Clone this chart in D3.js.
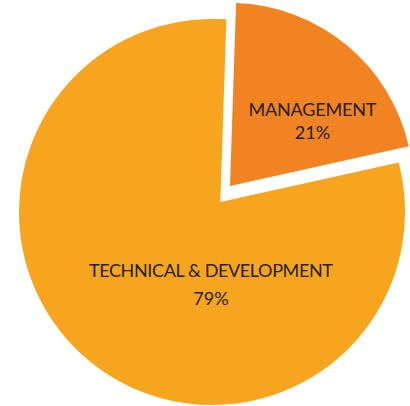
<!DOCTYPE html>
<html>
<head>
<meta charset="utf-8">
<script src="https://cdn.jsdelivr.net/npm/d3@7"></script>
<style>
  html, body { margin: 0; padding: 0; background: #ffffff; }
  svg { display: block; }
</style>
</head>
<body>
<div id="chart"></div>
<script>
// ---- data ----
const categories = ["MANAGEMENT", "TECHNICAL & DEVELOPMENT"];
const values = [21, 79];
const percentLabels = ["21%", "79%"];
const colors = ["#F28322", "#F7A51E"];

// ---- layout ----
const W = 410, H = 406;
const cx = 212, cy = 212;
const startAngle = 0.033;
const radii = [183, 185];          // geometric outer radius per slice
const strokeW = [0, 16];           // same-colour outline widening the big slice
const explode = [[18, -26], [0, 0]];
const labelOffset = [[24, 0.4], [58, -6]];   // relative to arc centroid
const lineGap = [23.3, 27.6];
const labelWidth = [128, 244];
const fontSize = 18;

const svg = d3.select("#chart").append("svg")
  .attr("width", W).attr("height", H);

const pie = d3.pie().sort(null).value(d => d)
  .startAngle(startAngle).endAngle(startAngle + 2 * Math.PI);
const arcs = pie(values);

const g = svg.append("g").attr("transform", `translate(${cx},${cy})`);

// draw big slice first, then the exploded one on top
const order = [1, 0];
order.forEach(i => {
  const a = arcs[i];
  const arcGen = d3.arc().innerRadius(0).outerRadius(radii[i]);
  const sg = g.append("g")
    .attr("transform", `translate(${explode[i][0]},${explode[i][1]})`);
  sg.append("path")
    .attr("d", arcGen(a))
    .attr("fill", colors[i])
    .attr("stroke", strokeW[i] ? colors[i] : "none")
    .attr("stroke-width", strokeW[i])
    .attr("stroke-linejoin", "miter")
    .attr("stroke-miterlimit", 10);
  const c = arcGen.centroid(a);
  const lx = c[0] + labelOffset[i][0], ly = c[1] + labelOffset[i][1];
  const t = sg.append("text")
    .attr("text-anchor", "middle")
    .attr("font-family", "Lato, 'Open Sans', sans-serif")
    .attr("font-size", fontSize)
    .attr("fill", "#26211e");
  t.append("tspan").attr("x", lx).attr("y", ly)
    .attr("textLength", labelWidth[i]).attr("lengthAdjust", "spacing")
    .text(categories[i]);
  t.append("tspan").attr("x", lx).attr("y", ly + lineGap[i]).text(percentLabels[i]);
});
</script>
</body>
</html>
